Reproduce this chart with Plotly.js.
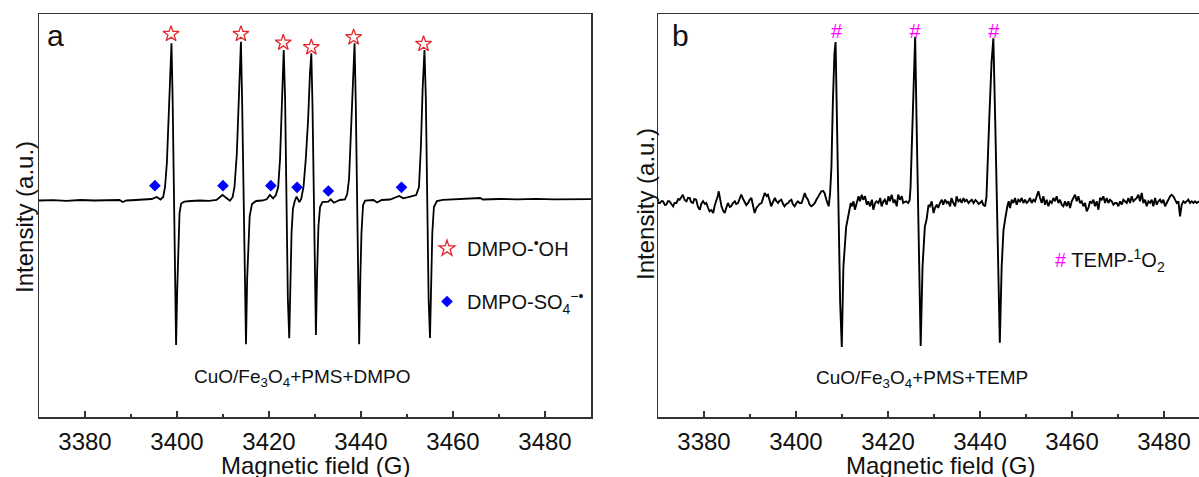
<!DOCTYPE html>
<html>
<head>
<meta charset="utf-8">
<script src="https://cdn.plot.ly/plotly-3.0.1.min.js"></script>
<style>html,body{margin:0;padding:0;background:#fff}#chart{width:1199px;height:477px}</style>
</head>
<body>
<div id="chart"></div>
<script>
// ---------- Panel a: CuO/Fe3O4+PMS+DMPO ----------
const fieldA = [
3370,3373,3376,3379,3382,3385,3387.5,3388.2,3389,3391,3393,3394.5,3395.6,3396.4,
3397.0,3397.4,3397.8,3398.2,3398.5,3398.8,3399.05,3399.3,3399.55,3399.8,3400.05,3400.3,3400.55,3400.9,3401.6,
3403,3405,3407,3408.6,3409.9,3410.6,3411.5,
3412.1,3412.5,3413.0,3413.4,3413.9,3414.15,3414.45,3414.75,3415.0,3415.25,3415.5,3415.8,3416.3,3417.2,
3418.5,3419.5,3420.2,3420.9,
3421.5,3422.0,3422.4,3422.8,3423.2,3423.5,3423.8,3424.1,3424.4,3424.65,3424.9,3425.2,3425.6,3426.0,3426.6,
3427.0,3427.5,3428.0,3428.5,3428.9,3429.2,3429.45,3429.7,3429.95,3430.2,3430.45,3430.75,3431.1,3431.6,
3432.9,3433.4,3434.1,3435.4,3436.5,
3437.0,3437.4,3437.8,3438.2,3438.6,3438.85,3439.1,3439.35,3439.6,3439.85,3440.1,3440.45,3440.9,
3442.7,3443.5,3444.5,3446.3,3448.3,3449.2,3450.7,
3452.0,3452.6,3453.0,3453.4,3453.8,3454.1,3454.4,3454.7,3455.0,3455.25,3455.5,3455.85,3456.5,
3457.8,3460,3463,3465.9,3466.5,3470,3474,3478,3482,3486,3490
];
const intensityA = [
-1.5,-1.2,-1.8,-1.0,-1.5,-1.2,-1.0,-3.0,-1.5,-1.0,-0.8,0,2.0,-0.5,
2,12,36,79,125,155.7,100,0,-100,-146,-90,-34,-14,-4.5,-2.7,
-2.0,-1.5,-1.8,-1.0,4.0,1.5,-1.7,
2,12,45,100,157.3,100,0,-100,-145.3,-80,-40,-17,-5,-2,
-1.5,-0.3,4,0.7,
4,12,40,90,149,100,0,-100,-139.3,-80,-34,-10,-2,2.3,-3,
0,12,40,79,125,145.7,95,0,-95,-136,-75,-27,-8,-3,
-2.7,-0.3,-3.7,-1,-0.5,
5,20,60,110,155.7,100,0,-100,-145.3,-80,-34,-6,-1.7,
-1,-3.5,-1,-0.5,3,0.7,2.3,
4,12,50,110,149,100,0,-100,-139,-80,-34,-8,-2,
-0.8,-0.3,0,1.0,-0.5,0,-0.3,0.2,-0.3,0,-0.2
];
const ohField = [3398.7, 3413.9, 3423.1, 3429.2, 3438.4, 3453.6];
const ohLevel = [165, 165, 156.3, 151.7, 161.7, 155];
const so4Field = [3395.2, 3410.0, 3420.4, 3426.1, 3432.9, 3448.8];
const so4Level = [13.3, 13.3, 13.3, 11.7, 8, 11.7];

// ---------- Panel b: CuO/Fe3O4+PMS+TEMP ----------
const fieldB = [
3370.0,3370.4,3370.8,3371.1,3371.5,3371.8,3372.2,3372.5,3372.9,3373.3,3373.6,3374.0,3374.4,3374.7,3375.1,3375.4,
3375.8,3376.2,3376.5,3376.9,3377.2,3377.6,3377.9,3378.3,3378.7,3379.1,3379.4,3379.8,3380.2,3380.5,3380.9,3381.2,
3381.6,3382.0,3382.3,3382.7,3383.0,3383.2,3383.5,3383.8,3384.2,3384.5,3384.9,3385.2,3385.6,3385.9,3386.3,3386.7,
3387.0,3387.4,3387.8,3388.1,3388.5,3388.8,3389.2,3389.6,3389.9,3390.3,3390.6,3391.0,3391.4,3391.7,3392.1,3392.5,
3392.8,3393.2,3393.6,3393.9,3394.3,3394.6,3395.0,3395.4,3395.7,3396.1,3396.4,3396.8,3397.2,3397.5,3397.9,3398.3,
3398.6,3399.0,3399.3,3399.7,3400.1,3400.4,3400.8,3401.2,3401.5,3401.9,3402.2,3402.6,3402.9,3403.3,3403.7,3404.1,
3404.4,3404.8,3405.1,3405.5,3405.9,3406.2,3406.6,3407.1,
3407.4,3407.7,3408.0,3408.35,3408.6,3408.9,3409.25,3409.6,3409.95,3410.3,3410.9,3411.2,3411.6,3411.9,
3412.1,3412.5,3412.8,3413.2,3413.6,3413.9,3414.3,3414.6,3415.0,3415.4,3415.7,3416.1,3416.5,3416.8,3417.2,3417.5,
3417.9,3418.3,3418.6,3419.0,3419.3,3419.7,3420.1,3420.4,3420.8,3421.2,3421.5,3421.9,3422.2,3422.6,3423.0,3423.3,
3423.9,3424.4,3424.7,
3424.9,3425.3,3425.6,3425.9,3426.2,3426.6,3426.9,3427.1,3427.5,3428.0,3428.4,3428.8,
3429.1,3429.5,3429.9,3430.2,3430.6,3430.9,3431.3,3431.7,3432.0,3432.4,3432.8,3433.1,3433.5,3433.8,3434.2,3434.6,
3434.9,3435.3,3435.7,3436.0,3436.4,3436.7,3437.1,3437.5,3437.8,3438.2,3438.6,3439.0,3439.3,3439.7,3440.0,3440.4,
3440.7,3441.1,
3441.4,3441.6,3442.0,3442.5,3442.9,3443.3,3443.7,3444.1,3444.3,3444.7,3445.1,3445.5,3445.8,
3445.94,3446.23,3446.52,3446.89,3447.25,3447.61,3447.97,3448.34,3448.70,3449.06,3449.42,3449.78,3450.15,3450.51,
3450.87,3451.23,3451.60,3451.96,3452.32,3452.68,3453.05,3453.41,3453.77,3454.13,3454.49,3454.86,3455.22,3455.58,
3455.94,3456.31,3456.67,3457.03,3457.39,3457.76,3458.12,3458.48,3458.84,3459.21,3459.57,3459.93,3460.29,3460.65,
3461.02,3461.38,3461.74,3462.10,3462.47,3462.83,3463.19,3463.55,3463.92,3464.28,3464.64,3465.00,3465.36,3465.73,
3466.09,3466.45,3466.81,3467.18,3467.54,3467.90,3468.26,3468.63,3468.99,3469.35,3469.71,3470.07,3470.44,3470.80,
3471.16,3471.52,3471.89,3472.25,3472.61,3472.97,3473.34,3473.70,3474.06,3474.42,3474.78,3475.15,3475.51,3475.87,
3476.23,3476.60,3476.96,3477.32,3477.68,3478.05,3478.41,3478.77,3479.13,3479.49,3479.86,3480.22,3480.58,3480.94,
3481.31,3481.67,3482.03,3482.39,3482.76,3483.12,3483.48,3483.84,3484.20,3484.57,3484.93,3485.29,3485.65,3486.02,
3486.38,3486.74,3487.10,3487.61
];
const intensityB = [
-1,-1,1,0.7,-3,-2.7,1,0.7,-2,-4.3,-1,-1,3,2.3,5,7.3,
2,0.7,4,4,0,-1,3,2.3,-5,-7.7,-2,0.7,-2,-1,-6,-9.3,
-8,-11,-4,0.7,6,10.7,2,-4.3,-9,-11,-5,-1,-5,-4.3,-1,0.7,
-2,-1,4,7.3,3,0.7,-3,-1,2,4,-4,-11,-6,-4.3,-2,-1,
4,9,6,7.3,1,-4.3,0,4,1,-1,1,2.3,-2,-4.3,-2,-1,
1,2.3,-2,-4.3,-1,0.7,-1,-1,3,9,5,2.3,-2,-4.3,-3,-1,
2,5.7,7,10.7,11,9,2.3,-4.3,
8,35,98,148,160,82,-18,-101,-145,-65,-25,-18,-10,-1,
-4.3,0.7,-7.7,-1,5.7,0.7,7.3,2.3,5.7,-2.7,0.7,-4.3,2.3,-7.7,-1,0.7,
-1,4,-4.3,0.7,2.3,-2.7,5.7,0.7,7.3,-1,2.3,-4.3,7.3,2.3,5.7,-1,
0.7,-1,2,
15,82,132,165.3,82,-18,-101,-144,-65,-25,-17,-3,
-4.3,0.7,-11,-6,-2.7,-6,-1,2.3,-2.7,2.3,-1,0.7,-4.3,4,-1,-4.3,
5.7,0.7,2.3,-1,4,0.7,2.3,-1,0.7,2.3,-1,2,0.7,-2,-1,1,
-2.7,-4.3,
5,35,82,139,163.7,82,-18,-101,-140.7,-65,-28,-16,-6,
-4.3,0.7,-6,2.3,-1,4,-2.7,2.3,0.7,4,-1,2.3,-1,0.7,
4,-1,2.3,0.7,5.7,10.7,4,-1,5.7,-2.7,2.3,-4.3,0.7,-1,
4,0.7,5.7,-1,2.3,-2.7,-4.3,0.7,-4.3,0.7,-6,0.7,4,7.3,
0.7,5.7,-1,0.7,-4.3,-1,-9.3,-6,0.7,-1,2.3,-4.3,0.7,-7.7,
4,2.3,5.7,-1,4,-1,2.3,0.7,-2.7,-1,-1,-4.3,0.7,-2.7,
2.3,0.7,-1,4,-1,5.7,0.7,2.3,4,7.3,0.7,9,-1,2.3,
-4.3,0.7,-1,2.3,-4.3,4,-2.7,0.7,2.3,-1,2.3,-4.3,-1,0.7,
5.7,7.3,5.7,2.3,-1,0.7,-14.3,-2.7,0.7,-1,0.7,2.3,-1,0.7,
-1,0.7,-1,0.7
];
const o2Field = [3408.8, 3425.9, 3443.0];
const o2Level = [168.7, 168.7, 168.7];
const o2Mark = ['#', '#', '#'];

const tickVals = [3380, 3400, 3420, 3440, 3460, 3480];
const tickText = ['3380', '3400', '3420', '3440', '3460', '3480'];

const FONT = 'Liberation Sans, Arial, Helvetica, sans-serif';
const W = 1199, H = 477;
const px = v => v / W, py = v => 1 - v / H;

const traces = [
  {x: fieldA, y: intensityA, xaxis: 'x', yaxis: 'y', mode: 'lines',
   line: {color: '#000', width: 1.8}, showlegend: false, hoverinfo: 'skip'},
  {x: ohField, y: ohLevel, xaxis: 'x', yaxis: 'y', mode: 'markers',
   name: 'DMPO-<sup>•</sup>OH', legend: 'legend', legendgroup: 'g1',
   marker: {symbol: 'star-open', size: 12, color: '#e3262c', line: {width: 1.3, color: '#e3262c'}}},
  {x: so4Field, y: so4Level, xaxis: 'x', yaxis: 'y', mode: 'markers',
   name: 'DMPO-SO<sub>4</sub><sup>−•</sup>', legend: 'legend', legendgroup: 'g2',
   marker: {symbol: 'diamond', size: 9, color: '#0000ff'}},
  {x: fieldB, y: intensityB, xaxis: 'x2', yaxis: 'y2', mode: 'lines',
   line: {color: '#000', width: 1.9}, showlegend: false, hoverinfo: 'skip'},
  {x: o2Field, y: o2Level, xaxis: 'x2', yaxis: 'y2', mode: 'text', text: o2Mark,
   textposition: 'middle center', textfont: {family: FONT, size: 20, color: '#ff00ff'},
   showlegend: false, hoverinfo: 'skip'}
];

function axisX(domain, range, anchor) {
  return {
    domain: domain, range: range, anchor: anchor, showgrid: false, zeroline: false,
    showline: true, linecolor: '#333', linewidth: 1.5, mirror: true,
    ticks: 'inside', ticklen: 6, tickwidth: 1.3, tickcolor: '#333',
    tickmode: 'array', tickvals: tickVals, ticktext: tickText, ticklabelstandoff: 3,
    tickfont: {family: FONT, size: 24, color: '#111'},
    minor: {dtick: 10, tick0: 3370, ticks: 'inside', ticklen: 3.5, tickwidth: 1.2, tickcolor: '#333'}
  };
}

const ann = (text, x, y, size, extra) => Object.assign({
  text, x: px(x), y: py(y), xref: 'paper', yref: 'paper', showarrow: false,
  xanchor: 'center', yanchor: 'middle', font: {family: FONT, size, color: '#111'}
}, extra || {});

const layout = {
  width: W, height: H,
  margin: {l: 0, r: 0, t: 0, b: 0},
  paper_bgcolor: '#fff', plot_bgcolor: '#fff',
  font: {family: FONT, size: 24, color: '#111'},
  xaxis: axisX([px(39), px(591)], [3370, 3490], 'y'),
  yaxis: {domain: [1 - 417 / H, 1 - 14 / H], range: [-218, 185], anchor: 'x', showgrid: false, zeroline: false,
          showline: true, linecolor: '#333', linewidth: 1.5, mirror: true, ticks: '', showticklabels: false},
  xaxis2: axisX([px(658), 1], [3370, 3487.6], 'y2'),
  yaxis2: {domain: [1 - 417 / H, 1 - 14 / H], range: [-215, 188], anchor: 'x2', showgrid: false, zeroline: false,
           showline: true, linecolor: '#333', linewidth: 1.5, mirror: false, ticks: '', showticklabels: false},
  showlegend: true,
  legend: {x: px(427), xanchor: 'left', y: py(229), yanchor: 'top', bgcolor: 'rgba(0,0,0,0)',
           font: {family: FONT, size: 20, color: '#111'}, traceorder: 'grouped', tracegroupgap: 24,
           itemclick: false, itemdoubleclick: false},
  annotations: [
    ann('a', 55, 36, 30),
    ann('b', 681, 35, 30),
    ann('CuO/Fe<sub>3</sub>O<sub>4</sub>+PMS+DMPO', 302, 378, 19),
    ann('CuO/Fe<sub>3</sub>O<sub>4</sub>+PMS+TEMP', 922, 379, 19),
    ann('Magnetic field (G)', 315, 465, 24),
    ann('Magnetic field (G)', 940, 465, 24),
    ann('Intensity (a.u.)', 24, 217, 24, {textangle: -90}),
    ann('Intensity (a.u.)', 645, 204, 24, {textangle: -90}),
    ann('<span style="color:#ff00ff">#</span> TEMP-<sup>1</sup>O<sub>2</sub>', 1053, 260, 20, {xanchor: 'left'})
  ]
};

Plotly.newPlot('chart', traces, layout, {staticPlot: true, displayModeBar: false});
</script>
</body>
</html>
